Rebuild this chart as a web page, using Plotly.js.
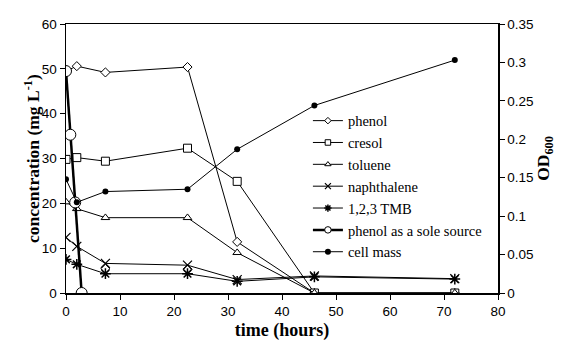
<!DOCTYPE html>
<html><head><meta charset="utf-8">
<script src="https://cdn.plot.ly/plotly-3.0.1.min.js"></script>
<style>html,body{margin:0;padding:0;background:#fff}#chart{width:561px;height:341px}</style>
</head><body><div id="chart"></div>
<script>
const time = [0, 2, 7.3, 22.5, 31.7, 46, 72];
const phenol = [49.5, 50.6, 49.2, 50.4, 11.4, 0, 0];
const cresol = [29.8, 30.2, 29.4, 32.3, 24.9, 0, 0];
const toluene = [20.3, 18.8, 16.8, 16.8, 9.0, 0, 0];
const naphthalene = [12.4, 10.4, 6.6, 6.2, 3.0, 3.8, 3.2];
const tmb = [7.5, 6.4, 4.3, 4.3, 2.6, 3.6, 3.1];
const extraTime = [7.3, 22.5];
const extraDiamond = [5.4, 5.3];
const soleTime = [0, 0.8, 1.7, 2.9];
const soleSource = [49.5, 35.3, 20.2, 0];
const cellMass = [0.148, 0.118, 0.132, 0.135, 0.187, 0.244, 0.303];
const xTicks = [0, 10, 20, 30, 40, 50, 60, 70, 80];
const odTicks = [0, 0.05, 0.1, 0.15, 0.2, 0.25, 0.3, 0.35];
const odTickText = ['0', '0.05', '0.1', '0.15', '0.2', '0.25', '0.3', '0.35'];
const seriesNames = ['phenol', 'cresol', 'toluene', 'naphthalene', '1,2,3 TMB', 'phenol as a sole source', 'cell mass'];
const yTitle = 'concentration (mg L<sup>-1</sup>)';

const K = '#000';
function mk(sym, size, fill, lw) { return {symbol: sym, size: size, color: fill, line: {color: K, width: lw}}; }

const styles = [
  {line: 1, m: mk('diamond', 7, '#fff', 1), lm: mk('diamond', 5, '#fff', 1)},
  {line: 1, m: mk('square', 8, '#fff', 1), lm: mk('square', 5.5, '#fff', 1)},
  {line: 1, m: mk('triangle-up', 7.5, '#fff', 1), lm: mk('triangle-up', 5.5, '#fff', 1)},
  {line: 1, m: mk('x-thin-open', 9, K, 1.2), lm: mk('x-thin-open', 6, K, 1.2)},
  {line: 1, m: mk('asterisk-open', 9, K, 1.5), lm: mk('asterisk-open', 6, K, 1.5)},
  {line: 2.5, m: mk('circle', 11, '#fff', 1), lm: mk('circle', 6.5, '#fff', 1)},
  {line: 1, m: {symbol: 'circle', size: 6, color: K}, lm: {symbol: 'circle', size: 6, color: K}}
];
const xs = [time, time, time, time, time, soleTime, time];
const ys = [phenol, cresol, toluene, naphthalene, tmb, soleSource, cellMass];

const traces = [
  {x: extraTime, y: extraDiamond, mode: 'markers', showlegend: false, marker: mk('diamond', 7, '#fff', 1), hoverinfo: 'skip'}
];
ys.forEach((y, i) => {
  traces.push({x: xs[i], y: y, name: seriesNames[i], yaxis: i === 6 ? 'y2' : 'y', mode: 'lines+markers',
    showlegend: false, line: {color: K, width: styles[i].line}, marker: styles[i].m});
});
seriesNames.forEach((n, i) => {
  traces.push({x: [null], y: [null], name: n, mode: 'lines+markers', showlegend: true,
    line: {color: K, width: styles[i].line}, marker: styles[i].lm});
});

const tickFont = {family: 'Liberation Sans', size: 13.5, color: K};
const titleFont = {family: 'Liberation Serif', size: 18, color: K, weight: 'bold'};

const layout = {
  width: 561, height: 341,
  margin: {l: 66, r: 63, t: 24, b: 48, pad: 0},
  paper_bgcolor: '#fff', plot_bgcolor: '#fff',
  showlegend: true,
  legend: {x: 0.56, y: 0.70, xanchor: 'left', yanchor: 'top', bgcolor: 'rgba(0,0,0,0)', traceorder: 'normal',
           font: {family: 'Liberation Serif', size: 14.5, color: K}, itemwidth: 30, tracegroupgap: 0},
  xaxis: {range: [0, 80], tickvals: xTicks, ticktext: xTicks.map(String), showgrid: false, zeroline: false,
          showline: true, linecolor: K, linewidth: 1.5, mirror: true, ticks: 'outside', ticklen: 5, tickcolor: K, tickwidth: 1,
          tickfont: tickFont, title: {text: 'time (hours)', font: titleFont, standoff: 7}},
  yaxis: {range: [0, 60], dtick: 10, showgrid: false, zeroline: false, showline: true, linecolor: K, linewidth: 1.5,
          ticks: 'outside', ticklen: 5, tickcolor: K, tickwidth: 1, tickfont: tickFont},
  yaxis2: {range: [0, 0.35], tickvals: odTicks, ticktext: odTickText, overlaying: 'y', side: 'right', showgrid: false, zeroline: false,
           showline: true, linecolor: K, linewidth: 1.5, ticks: 'outside', ticklen: 5, tickcolor: K, tickwidth: 1,
           tickfont: tickFont,
           title: {text: 'OD<sub>600</sub>', font: {family: 'Liberation Serif', size: 17.5, color: K, weight: 'bold'}, standoff: 2}},
  annotations: [
    {text: yTitle, xref: 'paper', yref: 'paper', x: -0.08, y: 0.5, xanchor: 'center', yanchor: 'middle',
     textangle: -90, showarrow: false, font: {family: 'Liberation Serif', size: 17.5, color: K, weight: 'bold'}}
  ]
};

Plotly.newPlot('chart', traces, layout, {displayModeBar: false, staticPlot: true});
</script></body></html>
